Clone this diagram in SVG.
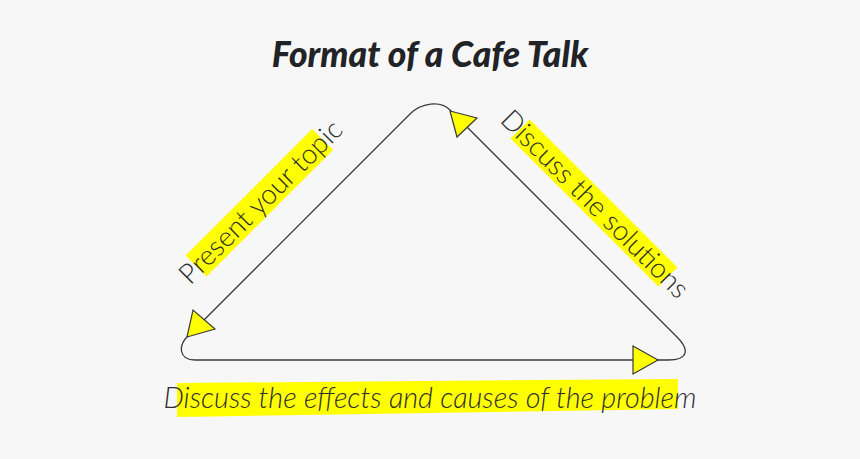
<svg xmlns="http://www.w3.org/2000/svg" width="860" height="459" viewBox="0 0 860 459">
<style>
.bg{fill:#f7f7f7}
.title{font-family:Lato,"Liberation Sans",sans-serif;font-weight:900;font-style:italic;font-size:35.5px;fill:#212326}
.lbl{font-family:Lato,"Liberation Sans",sans-serif;font-weight:300;font-size:27.8px;fill:#2e2e2e}
.it{font-style:italic;font-size:28.8px}
.hl{fill:#ffff00}
.edge{fill:none;stroke:#3a3a3a;stroke-width:1.3}
.arrow{fill:#ffff00;stroke:#3a3a3a;stroke-width:1.2;stroke-linejoin:miter}
</style>
<rect class="bg" x="0" y="0" width="860" height="459"/>
<g id="title"><text class="title" x="430" y="67" text-anchor="middle">Format of a Cafe Talk</text></g>
<g id="connectors">
<path class="edge" d="M 195 360 L 668 360 C 688 360 690 350 677 337 L 450 110 C 440 100 421 103 410 114 L 187 337 C 179 345 178 360 195 360 Z"/>
<polygon class="arrow" points="187,337 193,310 215,329"/>
<polygon class="arrow" points="450,111 477,118 457,137"/>
<polygon class="arrow" points="658,360 633,346 633,374"/>
</g>
<g id="label-present" transform="rotate(-45)">
<rect class="hl" x="-49.5" y="312" width="179" height="29.5"/>
<text class="lbl" x="41.5" y="336.5" text-anchor="middle">Present your topic</text>
</g>
<g id="label-solutions" transform="rotate(45)">
<rect class="hl" x="459" y="-290" width="209" height="27"/>
<text class="lbl" x="565" y="-267" text-anchor="middle">Discuss the solutions</text>
</g>
<g id="label-effects">
<polygon class="hl" points="177,383 678,379 678,409 177,417"/>
<text class="lbl it" x="430" y="408" text-anchor="middle">Discuss the effects and causes of the problem</text>
</g>
</svg>
